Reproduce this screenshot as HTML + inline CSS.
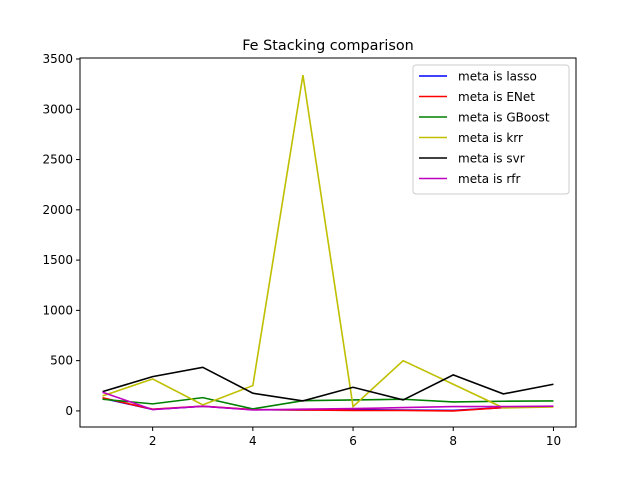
<!DOCTYPE html>
<html><head><meta charset="utf-8"><style>
body{margin:0;background:#fff;}
svg{display:block;font-family:"DejaVu Sans","Liberation Sans",sans-serif;}
</style></head><body>
<svg id="chart" width="640" height="480"></svg>
<script>
const xs=[1,2,3,4,5,6,7,8,9,10];
const lasso=[125,15,45,12,10,12,8,5,33,43];
const enet=[130,17,47,13,10,5,5,0,33,43];
const gboost=[116,70,132,20,102,109,116,89,96,99];
const krr=[149,318,60,252,3340,43,500,265,30,40];
const svr=[192,341,434,176,99,235,109,358,169,265];
const rfr=[186,13,47,10,17,23,33,43,43,47];
const xTicks=[2,4,6,8,10];
const yTicks=[0,500,1000,1500,2000,2500,3000,3500];
const seriesNames=["meta is lasso","meta is ENet","meta is GBoost","meta is krr","meta is svr","meta is rfr"];
const seriesColors=["#0000ff","#ff0000","#008000","#bfbf00","#000000","#bf00bf"];
const seriesData=[lasso,enet,gboost,krr,svr,rfr];
const L=80,R=576,T=58,B=427,xmin=0.55,xmax=10.45,ymin=-160,ymax=3510;
const X=v=>L+(v-xmin)/(xmax-xmin)*(R-L);
const Y=v=>B-(v-ymin)/(ymax-ymin)*(B-T);
const svg=document.getElementById('chart');const NS='http://www.w3.org/2000/svg';
function mk(t,a,p){const e=document.createElementNS(NS,t);for(const k in a)e.setAttribute(k,a[k]);(p||svg).appendChild(e);return e;}
let tt=mk('text',{x:328,y:50,'text-anchor':'middle','font-size':14.4});tt.textContent='Fe Stacking comparison';


seriesData.forEach((d,i)=>{
 const p=mk('polyline',{points:d.map((v,j)=>X(xs[j])+','+Y(v)).join(' '),fill:'none',stroke:seriesColors[i],'stroke-width':1.6});
 
 
});
const fr=mk('rect',{x:L,y:T,width:R-L,height:B-T,fill:'none',stroke:'#000','stroke-width':1});


xTicks.forEach(v=>{mk('line',{x1:X(v),x2:X(v),y1:B,y2:B+4,stroke:'#000'});
 const t=mk('text',{x:X(v),y:B+18,'text-anchor':'middle','font-size':12});t.textContent=v;
 
 });
yTicks.forEach(v=>{mk('line',{x1:L-4,x2:L,y1:Y(v),y2:Y(v),stroke:'#000'});
 const t=mk('text',{x:L-7,y:Y(v)+4,'text-anchor':'end','font-size':12});t.textContent=v;
 
 });
const lg=mk('g',{});


mk('rect',{x:413,y:65,width:156,height:129,rx:3,fill:'#fff',stroke:'#ccc'},lg);
seriesNames.forEach((n,i)=>{const y=76+i*20.5;
 mk('line',{x1:419,x2:447,y1:y,y2:y,stroke:seriesColors[i],'stroke-width':1.6},lg);
 const t=mk('text',{x:458,y:y+4.5,'font-size':12},lg);t.textContent=n;
 
 });
</script>
</body></html>
